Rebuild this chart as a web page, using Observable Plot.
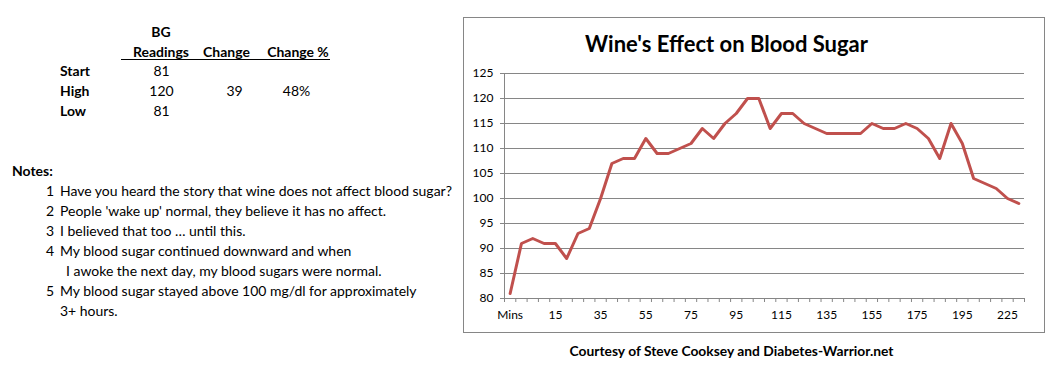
<!DOCTYPE html>
<html><head><meta charset="utf-8">
<script src="https://cdn.jsdelivr.net/npm/d3@7"></script>
<script src="https://cdn.jsdelivr.net/npm/@observablehq/plot@0.6"></script>
<style>
body{margin:0;background:#fff;font-family:Lato,"Open Sans",sans-serif;color:#000;}
#page{position:relative;width:1060px;height:380px;overflow:hidden;background:#fff;}
.t{position:absolute;white-space:nowrap;line-height:1;}
#box{position:absolute;left:463px;top:17px;width:580px;height:314px;border:1px solid #868686;}
#chart{position:absolute;left:463px;top:17px;}
</style></head><body><div id="page"><div id="box"></div><div id="chart"></div></div>
<script>
// ---- data ----
const minutes = ["Mins","0","5","10","15","20","25","30","35","40","45","50","55","60","65","70","75","80","85","90","95","100","105","110","115","120","125","130","135","140","145","150","155","160","165","170","175","180","185","190","195","200","210","215","225","235"];
const bg = [81,91,92,91,91,88,93,94,100,107,108,108,112,109,109,110,111,114,112,115,117,120,120,114,117,117,115,114,113,113,113,113,115,114,114,115,114,112,108,115,111,104,103,102,100,99];
const yTicks = [80,85,90,95,100,105,110,115,120,125];
const title = "Wine's Effect on Blood Sugar";
const caption = "Courtesy of Steve Cooksey and Diabetes-Warrior.net";

const headTop = "BG";
const headers = ["Readings","Change","Change %"];
const rowLabels = ["Start","High","Low"];
const readings = ["81","120","81"];
const changes = ["","39",""];
const changePct = ["","48%",""];

const notesTitle = "Notes:";
const noteNums = ["1","2","3","4","","5",""];
const noteLines = [
  "Have you heard the story that wine does not affect blood sugar?",
  "People 'wake up' normal, they believe it has no affect.",
  "I believed that too \u2026 until this.",
  "My blood sugar continued downward and when",
  "I awoke the next day, my blood sugars were normal.",
  "My blood sugar stayed above 100 mg/dl for approximately",
  "3+ hours."
];

// ---- helpers ----
const page = document.getElementById("page");
const ctx = document.createElement("canvas").getContext("2d");
function fitSize(text, weight, target) {
  ctx.font = `${weight} 100px Lato`;
  return 100 * target / ctx.measureText(text).width;
}
function place(text, x, y, size, weight, anchor) {
  const d = document.createElement("div");
  d.className = "t";
  d.textContent = text;
  d.style.left = x + "px";
  d.style.top = y + "px";
  d.style.fontSize = size + "px";
  d.style.fontWeight = weight;
  const tx = anchor === "middle" ? "-50%" : anchor === "end" ? "-100%" : "0";
  d.style.transform = `translate(${tx},-50%)`;
  page.appendChild(d);
  return d;
}

const ns = fitSize(noteLines[0], 400, 393);

// ---- table ----
place(headTop, 161, 32, ns, 700, "middle");
const hx = [161, 226.5, 298];
headers.forEach((h, i) => place(h, hx[i], 52, ns, 700, "middle"));
const ul = document.createElement("div");
ul.style.cssText = "position:absolute;left:121px;top:59px;width:209px;height:1px;background:#000;";
page.appendChild(ul);
const rows = [71, 91, 111];
rowLabels.forEach((r, i) => {
  place(r, 60, rows[i], ns, 700, "start");
  place(readings[i], 161.5, rows[i], ns, 400, "middle");
  if (changes[i]) place(changes[i], 234.5, rows[i], ns, 400, "middle");
  if (changePct[i]) place(changePct[i], 296.5, rows[i], ns, 400, "middle");
});

// ---- notes ----
place(notesTitle, 12, 171, ns, 700, "start");
const ny = [191, 211, 231, 251, 271, 291, 311];
const nx = [60, 60, 60, 60, 66, 60, 60];
noteLines.forEach((l, i) => {
  if (noteNums[i]) place(noteNums[i], 54, ny[i], ns, 400, "end");
  place(l, nx[i], ny[i], ns, 400, "start");
});

// ---- title / caption ----
place(title, 726.5, 44, fitSize(title, 700, 283), 700, "middle");
place(caption, 731.5, 351, fitSize(caption, 700, 325), 700, "middle");

// ---- chart ----
const data = bg.map((v, i) => ({i, v, m: minutes[i]}));
const boundaries = d3.range(minutes.length + 1).map(i => i - 0.5);
const labelIdx = minutes.map((m, i) => i).filter(i => i % 4 === 0);
const grey = "#868686";
const chart = Plot.plot({
  width: 581, height: 315,
  marginTop: 56, marginBottom: 34, marginLeft: 41, marginRight: 20,
  x: {domain: [-0.5, minutes.length - 0.5], axis: null},
  y: {domain: [80, 125], axis: null},
  style: {fontFamily: "Lato, sans-serif", fontSize: "12px", color: "#000", background: "transparent", overflow: "visible"},
  marks: [
    Plot.gridY(yTicks, {stroke: grey, strokeOpacity: 1, strokeWidth: 1}),
    Plot.ruleX([-0.5], {stroke: grey}),
    Plot.axisY(yTicks, {label: null, tickSize: 4, tickPadding: 7, stroke: grey, fill: "#000", fontSize: 12}),
    Plot.axisX(boundaries, {label: null, tickSize: 4, tickFormat: () => "", stroke: grey}),
    Plot.axisX(labelIdx, {label: null, tickSize: 0, tickPadding: 12, tickFormat: i => minutes[i], fill: "#000", fontSize: 12}),
    Plot.line(data, {x: "i", y: "v", stroke: "#C0504D", strokeWidth: 3, strokeLinejoin: "round"})
  ]
});
document.getElementById("chart").appendChild(chart);
</script></body></html>
